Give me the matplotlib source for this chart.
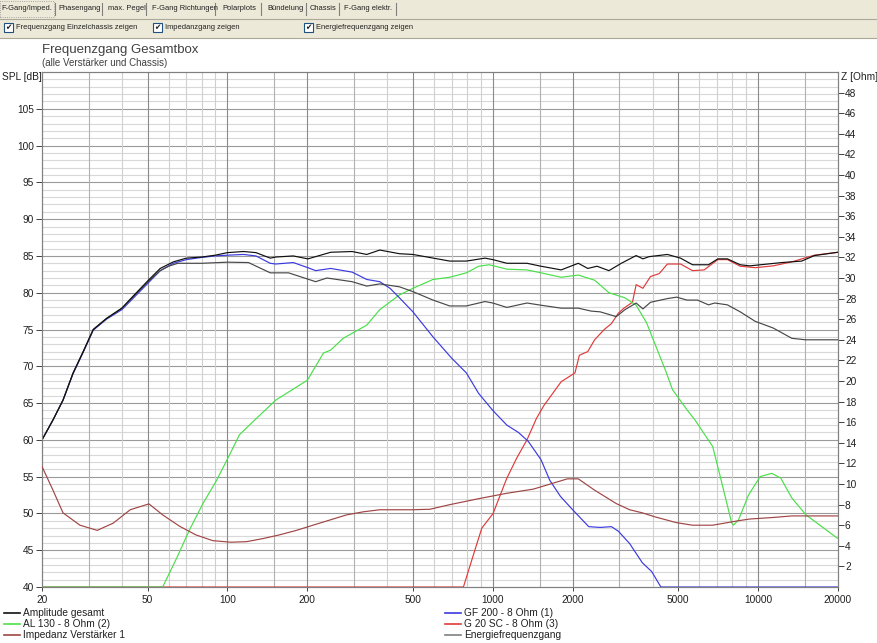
import numpy as np
import matplotlib
matplotlib.use('Agg')
import matplotlib.pyplot as plt
from matplotlib.patches import Rectangle
from matplotlib.lines import Line2D

# ---------------- data ----------------
amp_f = [20, 22, 24, 26.2, 28.6, 31.2, 35, 40, 44, 50.5, 55.8, 62.6, 70, 80, 90, 100, 115, 128, 145, 152,
         177, 201, 245, 295, 335, 375, 445, 500, 688, 795, 935, 1000, 1130, 1345, 1520, 1810, 2100, 2280,
         2470, 2740, 3050, 3470, 3680, 3880, 4550, 5100, 5660, 6500, 7050, 7660, 8560, 9300, 12300, 14600,
         16300, 20000]
amp_db = [60.0, 62.7, 65.4, 69.1, 72.0, 75.0, 76.5, 77.9, 79.5, 81.75, 83.3, 84.2, 84.7, 84.85, 85.1, 85.45,
          85.6, 85.45, 84.7, 84.85, 85.0, 84.6, 85.5, 85.6, 85.2, 85.8, 85.3, 85.2, 84.3, 84.3, 84.7, 84.5,
          84.0, 84.0, 83.6, 83.1, 84.0, 83.3, 83.6, 83.0, 84.0, 85.05, 84.6, 84.9, 85.2, 84.7, 83.8, 83.8,
          84.6, 84.6, 83.8, 83.65, 84.1, 84.3, 85.05, 85.5]

gf_f = [20, 22, 24, 26.2, 28.6, 31.2, 35, 40, 44, 50.5, 55.8, 62.6, 70, 80, 90, 100, 115, 128, 145, 152,
        177, 201, 215, 245, 295, 335, 375, 410, 445, 500, 595, 700, 795, 885, 1000, 1130, 1250, 1360, 1520,
        1640, 1800, 2000, 2300, 2540, 2800, 2970, 3280, 3660, 3970, 4300, 20000]
gf_db = [60.0, 62.7, 65.4, 69.0, 71.9, 74.9, 76.4, 77.7, 79.2, 81.4, 83.0, 84.0, 84.5, 84.8, 85.0, 85.1,
         85.2, 85.0, 84.0, 83.9, 84.1, 83.4, 83.0, 83.3, 82.8, 81.8, 81.5, 80.6, 79.3, 77.4, 74.0, 71.1,
         69.1, 66.3, 64.0, 62.0, 61.0, 59.8, 57.3, 54.5, 52.3, 50.5, 48.2, 48.1, 48.2, 47.6, 45.9, 43.3,
         42.1, 40.0, 40.0]

al_f = [20, 57, 64.7, 72, 81, 91, 102.6, 111, 125, 152, 200, 230, 245, 273, 335, 375, 445, 500, 595, 688,
        795, 885, 970, 1130, 1345, 1520, 1810, 2100, 2420, 2740, 3150, 3470, 3800, 4120, 4470, 4760, 5390,
        5780, 6740, 7200, 7950, 8070, 8430, 9200, 10170, 11260, 12170, 13400, 15150, 19600, 20000]
al_db = [40.0, 40.0, 44.1, 47.8, 51.4, 54.5, 58.2, 60.7, 62.5, 65.4, 68.1, 71.8, 72.2, 73.8, 75.6, 77.7,
         79.7, 80.6, 81.8, 82.1, 82.7, 83.6, 83.8, 83.2, 83.1, 82.7, 82.1, 82.4, 81.7, 80.0, 79.3, 78.3,
         75.9, 72.7, 69.5, 66.8, 64.1, 62.7, 59.1, 55.0, 48.7, 48.4, 49.1, 52.5, 55.0, 55.45, 54.8, 52.1,
         49.8, 46.8, 46.6]

g20_f = [20, 775, 849, 909, 1003, 1072, 1130, 1230, 1345, 1460, 1560, 1650, 1810, 2040, 2120, 2280, 2420,
         2630, 2800, 2970, 3120, 3360, 3470, 3680, 3930, 4240, 4550, 5100, 5660, 6260, 7050, 7660, 8560,
         9760, 11400, 13400, 16300, 20000]
g20_db = [40.0, 40.0, 44.6, 48.0, 50.0, 52.7, 54.8, 57.5, 60.0, 62.9, 64.7, 65.9, 67.9, 69.1, 71.5, 72.0,
          73.6, 75.0, 75.8, 77.2, 77.9, 78.7, 81.1, 80.6, 82.2, 82.6, 83.9, 83.9, 83.0, 83.1, 84.5, 84.5,
          83.6, 83.4, 83.65, 84.2, 85.1, 85.5]

en_f = [20, 22, 24, 26.2, 28.6, 31.2, 35, 40, 44, 50.5, 55.8, 60, 65, 80, 100, 120, 145, 170, 215, 237, 295,
        335, 375, 445, 500, 595, 688, 795, 935, 1000, 1130, 1345, 1520, 1810, 2100, 2350, 2540, 2920, 3150,
        3470, 3680, 3930, 4550, 4930, 5390, 5910, 6500, 6860, 7660, 8560, 9760, 11400, 13400, 15100, 20000]
en_db = [60.0, 62.7, 65.4, 69.1, 72.0, 75.0, 76.5, 77.9, 79.4, 81.6, 83.0, 83.6, 84.0, 84.0, 84.15, 84.1,
         82.7, 82.7, 81.5, 82.0, 81.5, 80.9, 81.2, 80.8, 80.15, 79.0, 78.2, 78.2, 78.8, 78.6, 78.0, 78.6,
         78.3, 77.9, 77.9, 77.5, 77.4, 76.75, 77.7, 78.6, 77.8, 78.7, 79.2, 79.4, 79.0, 79.0, 78.35, 78.6,
         78.35, 77.4, 76.1, 75.2, 73.8, 73.6, 73.6]

imp_f = [20, 22, 24, 27.8, 32.3, 37.1, 43, 50.6, 57, 66, 76, 88, 103, 118, 136, 157, 182, 210, 243, 281, 325,
         375, 500, 580, 690, 895, 1130, 1420, 1600, 1910, 2100, 2420, 2920, 3280, 3660, 4100, 4920, 5660,
         6740, 8500, 9300, 11400, 13400, 20000]
imp_ohm = [11.7, 9.4, 7.2, 6.0, 5.5, 6.2, 7.5, 8.07, 7.0, 5.9, 5.06, 4.5, 4.35, 4.4, 4.7, 5.06, 5.5, 6.0, 6.5,
           7.0, 7.3, 7.5, 7.5, 7.55, 8.0, 8.6, 9.1, 9.5, 9.9, 10.5, 10.5, 9.4, 8.1, 7.5, 7.2, 6.8, 6.25, 6.0,
           6.0, 6.45, 6.6, 6.75, 6.9, 6.9]

x_labels = [20, 50, 100, 200, 500, 1000, 2000, 5000, 10000, 20000]
x_mid = [30, 150, 300, 1500, 3000, 15000]
x_light = [40, 60, 70, 80, 90, 400, 600, 700, 800, 900, 4000, 6000, 7000, 8000, 9000]
spl_ticks = list(range(40, 110, 5))
z_ticks = list(range(2, 50, 2))

tabs = ["F-Gang/Imped.", "Phasengang", "max. Pegel", "F-Gang Richtungen", "Polarplots",
        "Bündelung", "Chassis", "F-Gang elektr."]
checks = ["Frequenzgang Einzelchassis zeigen", "Impedanzgang zeigen", "Energiefrequenzgang zeigen"]

# ---------------- figure ----------------
W, H = 878, 643
fig = plt.figure(figsize=(W / 100, H / 100), dpi=100)
fig.patch.set_facecolor('white')
FONT = 'Liberation Sans'


def fx(x):
    return x / W


def fy(y):
    return 1 - y / H


# header (window UI)
fig.add_artist(Rectangle((0, fy(38)), 1, 38 / H, transform=fig.transFigure,
                         facecolor='#ECE9D8', edgecolor='none', zorder=0))
fig.add_artist(Line2D([0, 1], [fy(18.5)] * 2, transform=fig.transFigure, color='#ACA899', lw=0.8))
fig.add_artist(Line2D([0, 1], [fy(38)] * 2, transform=fig.transFigure, color='#ACA899', lw=0.8))
tab_x = [1, 58, 108, 152, 222, 267, 310, 344]
sep_x = [55, 102, 146, 215, 261, 306, 339, 396]
for t, x in zip(tabs, tab_x):
    fig.text(fx(x), fy(8.5), t, fontsize=5.4, family=FONT, va='center', ha='left', color='#202020')
for x in sep_x:
    fig.add_artist(Line2D([fx(x)] * 2, [fy(3), fy(15)], transform=fig.transFigure, color='#808080', lw=0.8))
fig.add_artist(Rectangle((fx(0), fy(17)), 54 / W, 16 / H, transform=fig.transFigure,
                         facecolor='none', edgecolor='#909090', lw=0.6, ls=':'))

box_x = [4, 153, 304]
for t, x in zip(checks, box_x):
    fig.add_artist(Rectangle((fx(x), fy(32)), 9 / W, 9 / H, transform=fig.transFigure,
                             facecolor='white', edgecolor='#1C5180', lw=0.8))
    fig.text(fx(x + 4.5), fy(27.8), '✔', fontsize=5.5, family='DejaVu Sans', ha='center', va='center',
             color='#202020')
    fig.text(fx(x + 12), fy(27.5), t, fontsize=5.4, family=FONT, va='center', ha='left', color='#202020')

fig.text(fx(42), fy(50), "Frequenzgang Gesamtbox", fontsize=9.5, family=FONT, va='center', ha='left',
         color='#404040')
fig.text(fx(42), fy(63.5), "(alle Verstärker und Chassis)", fontsize=7, family=FONT, va='center', ha='left',
         color='#404040')
fig.text(fx(2), fy(76.5), "SPL [dB]", fontsize=7.3, family=FONT, va='center', ha='left', color='#202020')
fig.text(fx(841), fy(76.5), "Z [Ohm]", fontsize=7.3, family=FONT, va='center', ha='left', color='#202020')

# ---------------- axes ----------------
ax = fig.add_axes([fx(42), fy(587), (838 - 42) / W, (587 - 72) / H])
ax.set_xscale('log')
ax.set_xlim(20, 20000)
ax.set_ylim(40, 110)

for v in range(41, 110):
    if v % 5:
        ax.axhline(v, color='#d8d8d8', lw=0.8, zorder=0)
for v in range(45, 110, 5):
    ax.axhline(v, color='#9a9a9a', lw=0.8, zorder=0.5)
for v in x_light:
    ax.axvline(v, color='#cfcfcf', lw=0.8, zorder=0.6)
for v in x_mid:
    ax.axvline(v, color='#b0b0b0', lw=0.8, zorder=0.6)
for v in x_labels[1:-1]:
    ax.axvline(v, color='#8a8a8a', lw=0.8, zorder=0.7)

LW = 0.85
l_g20, = ax.plot(g20_f, g20_db, color='#e03a3a', lw=LW, zorder=2)
l_al, = ax.plot(al_f, al_db, color='#48e048', lw=LW, zorder=2.1)
l_gf, = ax.plot(gf_f, gf_db, color='#3a3ae0', lw=LW, zorder=2.2)
l_en, = ax.plot(en_f, en_db, color='#484848', lw=LW, zorder=2.3)
l_amp, = ax.plot(amp_f, amp_db, color='#101010', lw=LW, zorder=2.4)

ax.set_xticks(x_labels)
ax.set_xticklabels([str(v) for v in x_labels])
ax.set_xticks([], minor=True)
ax.set_yticks(spl_ticks)
ax.set_yticklabels([str(v) for v in spl_ticks])
ax.tick_params(axis='both', which='major', labelsize=7.3, length=4, width=0.7, color='#404040',
               labelcolor='#202020', pad=2)
ax.tick_params(axis='x', length=3, pad=3)
for lab in ax.get_xticklabels() + ax.get_yticklabels():
    lab.set_family(FONT)
for s in ax.spines.values():
    s.set_color('#808080')
    s.set_linewidth(0.8)

ax2 = ax.twinx()
ax2.set_ylim(0, 50)
ax2.set_xlim(20, 20000)
l_imp, = ax2.plot(imp_f, imp_ohm, color='#a04545', lw=LW, zorder=3)
ax2.set_yticks(z_ticks)
ax2.set_yticklabels([str(v) for v in z_ticks])
ax2.tick_params(axis='y', labelsize=7.3, length=4, width=0.7, color='#404040', labelcolor='#202020', pad=1)
for lab in ax2.get_yticklabels():
    lab.set_family(FONT)
for s in ax2.spines.values():
    s.set_color('#808080')
    s.set_linewidth(0.8)

# ---------------- legend (manual, two columns) ----------------
leg_entries = [
    (l_amp, "Amplitude gesamt", 4, 613),
    (l_al, "AL 130 - 8 Ohm (2)", 4, 624),
    (l_imp, "Impedanz Verstärker 1", 4, 635),
    (l_gf, "GF 200 - 8 Ohm (1)", 445, 613),
    (l_g20, "G 20 SC - 8 Ohm (3)", 445, 624),
    (l_en, "Energiefrequenzgang", 445, 635),
]
for ln, label, x, y in leg_entries:
    c = ln.get_color()
    if ln is l_en:
        c = '#808080'
    fig.add_artist(Line2D([fx(x), fx(x + 16)], [fy(y)] * 2, transform=fig.transFigure, color=c, lw=1.2))
    fig.text(fx(x + 19), fy(y), label, fontsize=7.3, family=FONT, va='center', ha='left', color='#202020')

fig.savefig('out.png', dpi=100, facecolor='white')
